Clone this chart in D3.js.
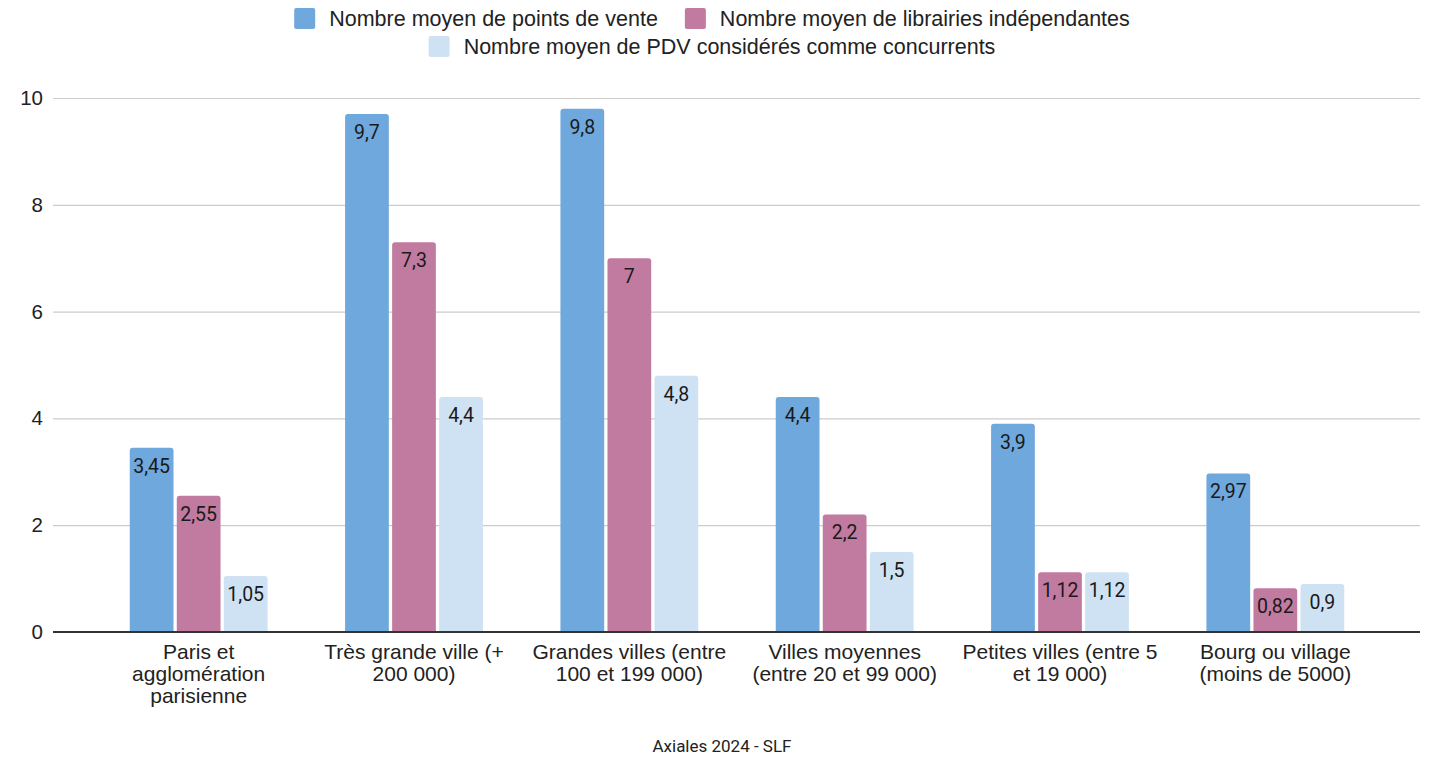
<!DOCTYPE html>
<html>
<head>
<meta charset="utf-8">
<script src="https://cdn.jsdelivr.net/npm/d3@7"></script>
<style>
  html, body { margin: 0; padding: 0; background: #fff; }
  svg { display: block; font-family: "Liberation Sans", Arial, sans-serif; }
</style>
</head>
<body>
<script>
// Data
const categories = [
  "Paris et\nagglomération\nparisienne",
  "Très grande ville (+\n200 000)",
  "Grandes villes (entre\n100 et 199 000)",
  "Villes moyennes\n(entre 20 et 99 000)",
  "Petites villes (entre 5\net 19 000)",
  "Bourg ou village\n(moins de 5000)"
];
const seriesNames = [
  "Nombre moyen de points de vente",
  "Nombre moyen de librairies indépendantes",
  "Nombre moyen de PDV considérés comme concurrents"
];
const pointsDeVente = [3.45, 9.7, 9.8, 4.4, 3.9, 2.97];
const librairies = [2.55, 7.3, 7, 2.2, 1.12, 0.82];
const concurrents = [1.05, 4.4, 4.8, 1.5, 1.12, 0.9];
const yTicks = [0, 2, 4, 6, 8, 10];
const seriesColors = ["#6fa8dc", "#c27ba0", "#cfe2f3"];
const source = "Axiales 2024 - SLF";

const width = 1435, height = 758;
const seriesValues = [pointsDeVente, librairies, concurrents];

const svg = d3.select("body").append("svg")
  .attr("width", width)
  .attr("height", height)
  .attr("viewBox", [0, 0, width, height]);

// Scales
const x0 = d3.scaleBand()
  .domain(d3.range(categories.length))
  .range([91, 1383])
  .paddingInner(0.36)
  .paddingOuter(0.18);

const x1 = d3.scaleBand()
  .domain(d3.range(seriesNames.length))
  .range([0, x0.bandwidth()])
  .paddingInner(0.07);

const y = d3.scaleLinear()
  .domain([0, 10])
  .range([632, 98]);

// Grid lines
svg.append("g")
  .attr("transform", "translate(53,0)")
  .call(d3.axisLeft(y).tickValues(yTicks).tickSize(-(1420 - 53)).tickFormat(""))
  .call(g => g.select(".domain").remove())
  .call(g => g.selectAll(".tick line").attr("stroke", "#cccccc").attr("stroke-width", 1.2));

// Y labels
svg.append("g")
  .attr("transform", "translate(43,0)")
  .call(d3.axisLeft(y).tickValues(yTicks).tickSize(0).tickPadding(0).tickFormat(d3.format("d")))
  .call(g => g.select(".domain").remove())
  .call(g => g.selectAll("text")
    .attr("font-size", 20.5)
    .attr("fill", "#222")
    .attr("font-family", "'Liberation Sans', Arial, sans-serif"));

// Rounded-top bar path
function barPath(x, yTop, w, h, r) {
  r = Math.min(r, h, w / 2);
  return `M${x},${yTop + h}V${yTop + r}Q${x},${yTop} ${x + r},${yTop}` +
    `H${x + w - r}Q${x + w},${yTop} ${x + w},${yTop + r}V${yTop + h}Z`;
}

const fmt = v => String(v).replace(".", ",");

const groups = svg.append("g")
  .selectAll("g")
  .data(categories.map((c, i) => i))
  .join("g")
  .attr("transform", i => `translate(${x0(i)},0)`);

groups.selectAll("path")
  .data(i => seriesValues.map((vals, s) => ({ s, v: vals[i] })))
  .join("path")
  .attr("fill", d => seriesColors[d.s])
  .attr("d", d => barPath(x1(d.s), y(d.v), x1.bandwidth(), y(0) - y(d.v), 3));

groups.selectAll("text")
  .data(i => seriesValues.map((vals, s) => ({ s, v: vals[i] })))
  .join("text")
  .attr("x", d => x1(d.s) + x1.bandwidth() / 2)
  .attr("y", d => y(d.v) + 18)
  .attr("dy", "0.35em")
  .attr("text-anchor", "middle")
  .attr("font-family", "Roboto, sans-serif")
  .attr("font-size", 19.5)
  .attr("fill", "#1a1a1a")
  .text(d => fmt(d.v));

// Baseline
svg.append("line")
  .attr("x1", 53).attr("x2", 1420)
  .attr("y1", y(0)).attr("y2", y(0))
  .attr("stroke", "#333")
  .attr("stroke-width", 2);

// Category labels
const catLabels = svg.append("g")
  .selectAll("text")
  .data(categories)
  .join("text")
  .attr("x", (d, i) => x0(i) + x0.bandwidth() / 2)
  .attr("y", 659)
  .attr("text-anchor", "middle")
  .attr("font-size", 21)
  .attr("fill", "#222");

catLabels.selectAll("tspan")
  .data(d => d.split("\n"))
  .join("tspan")
  .attr("x", function () { return this.parentNode.getAttribute("x"); })
  .attr("dy", (d, i) => i === 0 ? 0 : 22)
  .text(d => d);

// Legend
const legendRows = [[0, 1], [2]];
legendRows.forEach((row, r) => {
  const g = svg.append("g");
  let cx = 0;
  row.forEach(s => {
    const item = g.append("g").attr("transform", `translate(${cx},0)`);
    item.append("rect")
      .attr("x", 0).attr("y", -10)
      .attr("width", 21).attr("height", 21)
      .attr("rx", 2)
      .attr("fill", seriesColors[s]);
    const t = item.append("text")
      .attr("x", 35).attr("y", 0)
      .attr("dy", "0.35em")
      .attr("font-size", 21.5)
      .attr("fill", "#222")
      .text(seriesNames[s]);
    cx += 35 + t.node().getComputedTextLength() + 27;
  });
  const total = cx - 27;
  g.attr("transform", `translate(${712 - total / 2},${18 + r * 28})`);
});

// Source
svg.append("text")
  .attr("x", 722)
  .attr("y", 746)
  .attr("dy", "0.35em")
  .attr("text-anchor", "middle")
  .attr("font-family", "Roboto, sans-serif")
  .attr("font-size", 17)
  .attr("fill", "#222")
  .text(source);
</script>
</body>
</html>
